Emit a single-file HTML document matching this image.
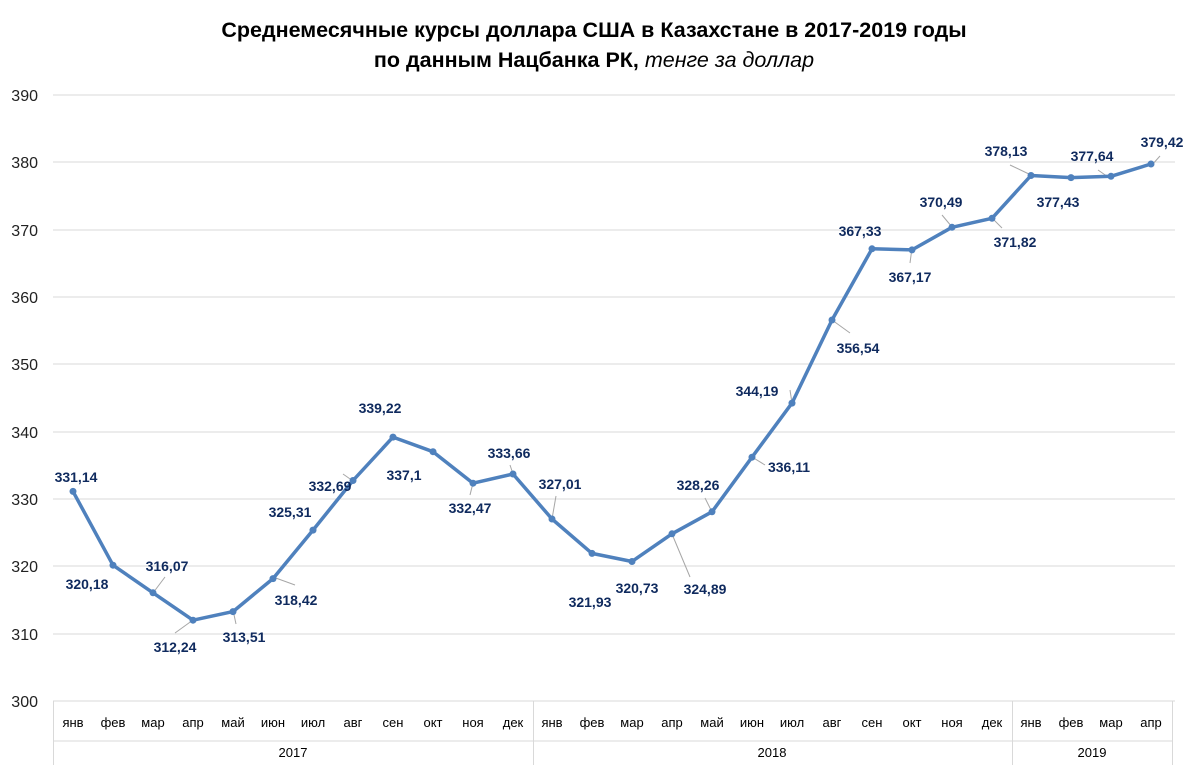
<!DOCTYPE html>
<html><head><meta charset="utf-8"><style>
body{margin:0;background:#fff}
svg{display:block;font-family:"Liberation Sans",sans-serif}
.d{font-weight:bold;font-size:14px;fill:#0f2a5e;text-anchor:middle}
.m{font-size:13px;fill:#000;text-anchor:middle}
.y{font-size:16px;fill:#222;text-anchor:end}
</style></head><body>
<svg width="1194" height="775" viewBox="0 0 1194 775">
<text x="594" y="37" text-anchor="middle" font-weight="bold" font-size="21.5">Среднемесячные курсы доллара США в Казахстане в 2017-2019 годы</text>
<text x="594" y="67" text-anchor="middle" font-weight="bold" font-size="21.5">по данным Нацбанка РК, <tspan font-style="italic" font-weight="normal">тенге за доллар</tspan></text>
<g stroke="#d9d9d9" stroke-width="1">
<line x1="53" x2="1175" y1="95" y2="95"/><line x1="53" x2="1175" y1="162" y2="162"/><line x1="53" x2="1175" y1="230" y2="230"/><line x1="53" x2="1175" y1="297" y2="297"/><line x1="53" x2="1175" y1="364" y2="364"/><line x1="53" x2="1175" y1="432" y2="432"/><line x1="53" x2="1175" y1="499" y2="499"/><line x1="53" x2="1175" y1="566" y2="566"/><line x1="53" x2="1175" y1="634" y2="634"/><line x1="53" x2="1175" y1="701" y2="701"/>
<line x1="53.5" x2="53.5" y1="701" y2="765"/><line x1="533.5" x2="533.5" y1="701" y2="765"/><line x1="1012.5" x2="1012.5" y1="701" y2="765"/><line x1="1172.5" x2="1172.5" y1="701" y2="765"/>
<line x1="53" x2="1173" y1="741" y2="741"/>
</g>
<g class="y"><text x="38" y="101">390</text><text x="38" y="168">380</text><text x="38" y="236">370</text><text x="38" y="303">360</text><text x="38" y="370">350</text><text x="38" y="438">340</text><text x="38" y="505">330</text><text x="38" y="572">320</text><text x="38" y="640">310</text><text x="38" y="707">300</text></g>
<g class="m">
<text x="73" y="727">янв</text><text x="113" y="727">фев</text><text x="153" y="727">мар</text><text x="193" y="727">апр</text><text x="233" y="727">май</text><text x="273" y="727">июн</text><text x="313" y="727">июл</text><text x="353" y="727">авг</text><text x="393" y="727">сен</text><text x="433" y="727">окт</text><text x="473" y="727">ноя</text><text x="513" y="727">дек</text>
<text x="552" y="727">янв</text><text x="592" y="727">фев</text><text x="632" y="727">мар</text><text x="672" y="727">апр</text><text x="712" y="727">май</text><text x="752" y="727">июн</text><text x="792" y="727">июл</text><text x="832" y="727">авг</text><text x="872" y="727">сен</text><text x="912" y="727">окт</text><text x="952" y="727">ноя</text><text x="992" y="727">дек</text>
<text x="1031" y="727">янв</text><text x="1071" y="727">фев</text><text x="1111" y="727">мар</text><text x="1151" y="727">апр</text>
<text x="293" y="757">2017</text><text x="772" y="757">2018</text><text x="1092" y="757">2019</text>
</g>
<g stroke="#a6a6a6" stroke-width="1">
<line x1="153" y1="593" x2="165" y2="577"/><line x1="193" y1="620" x2="175" y2="633"/><line x1="233" y1="610" x2="236" y2="624"/><line x1="273" y1="577" x2="295" y2="585"/>
<line x1="353" y1="481" x2="343" y2="474"/><line x1="473" y1="483" x2="470" y2="495"/><line x1="513" y1="474" x2="510" y2="465"/><line x1="552" y1="519" x2="556" y2="496"/>
<line x1="672" y1="534" x2="690" y2="577"/><line x1="712" y1="512" x2="705" y2="498"/><line x1="752" y1="457" x2="765" y2="465"/><line x1="792" y1="403" x2="790" y2="390"/><line x1="832" y1="320" x2="850" y2="333"/>
<line x1="912" y1="248" x2="910" y2="263"/><line x1="952" y1="227" x2="942" y2="215"/><line x1="992" y1="218" x2="1002" y2="228"/><line x1="1031" y1="175" x2="1010" y2="165"/><line x1="1111" y1="179" x2="1098" y2="170"/><line x1="1151" y1="166" x2="1160" y2="156"/>
</g>
<polyline fill="none" stroke="#4f81bd" stroke-width="3.5" stroke-linejoin="round" points="73,491.4 113,565.2 153,592.8 193,620.2 233,611.6 273,578.6 313,530.1 353,480.5 393,437.1 433,451.7 473,483.2 513,474.0 552,519.0 592,553.4 632,561.5 672,533.8 712,511.8 752,457.2 792,403.1 832,320.0 872,248.8 912,249.9 952,227.3 992,218.3 1031,175.5 1071,177.6 1111,176.3 1151,164.0"/>
<g fill="#4f81bd"><circle cx="73" cy="491.4" r="3.5"/><circle cx="113" cy="565.2" r="3.5"/><circle cx="153" cy="592.8" r="3.5"/><circle cx="193" cy="620.2" r="3.5"/><circle cx="233" cy="611.6" r="3.5"/><circle cx="273" cy="578.6" r="3.5"/><circle cx="313" cy="530.1" r="3.5"/><circle cx="353" cy="480.5" r="3.5"/><circle cx="393" cy="437.1" r="3.5"/><circle cx="433" cy="451.7" r="3.5"/><circle cx="473" cy="483.2" r="3.5"/><circle cx="513" cy="474.0" r="3.5"/><circle cx="552" cy="519.0" r="3.5"/><circle cx="592" cy="553.4" r="3.5"/><circle cx="632" cy="561.5" r="3.5"/><circle cx="672" cy="533.8" r="3.5"/><circle cx="712" cy="511.8" r="3.5"/><circle cx="752" cy="457.2" r="3.5"/><circle cx="792" cy="403.1" r="3.5"/><circle cx="832" cy="320.0" r="3.5"/><circle cx="872" cy="248.8" r="3.5"/><circle cx="912" cy="249.9" r="3.5"/><circle cx="952" cy="227.3" r="3.5"/><circle cx="992" cy="218.3" r="3.5"/><circle cx="1031" cy="175.5" r="3.5"/><circle cx="1071" cy="177.6" r="3.5"/><circle cx="1111" cy="176.3" r="3.5"/><circle cx="1151" cy="164.0" r="3.5"/></g>
<g class="d">
<text x="76" y="482">331,14</text><text x="87" y="589">320,18</text><text x="167" y="571">316,07</text><text x="175" y="652">312,24</text><text x="244" y="642">313,51</text><text x="296" y="605">318,42</text>
<text x="290" y="517">325,31</text><text x="330" y="491">332,69</text><text x="380" y="413">339,22</text><text x="404" y="480">337,1</text><text x="470" y="513">332,47</text><text x="509" y="458">333,66</text>
<text x="560" y="489">327,01</text><text x="590" y="607">321,93</text><text x="637" y="593">320,73</text><text x="705" y="594">324,89</text><text x="698" y="490">328,26</text><text x="789" y="472">336,11</text>
<text x="757" y="396">344,19</text><text x="858" y="353">356,54</text><text x="860" y="236">367,33</text><text x="910" y="282">367,17</text><text x="941" y="207">370,49</text><text x="1015" y="247">371,82</text>
<text x="1006" y="156">378,13</text><text x="1058" y="207">377,43</text><text x="1092" y="161">377,64</text><text x="1162" y="147">379,42</text>
</g>
</svg>
</body></html>
